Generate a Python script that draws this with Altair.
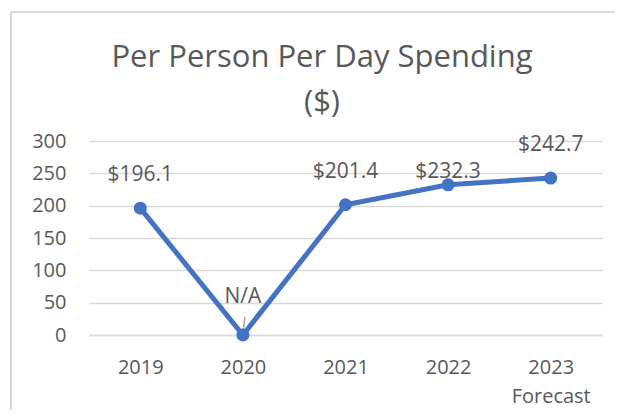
import altair as alt
import pandas as pd

years = ["2019", "2020", "2021", "2022", "2023 Forecast"]
spending = [196.1, 0, 201.4, 232.3, 242.7]
labels = ["$196.1", "N/A", "$201.4", "$232.3", "$242.7"]
title_lines = ["Per Person Per Day Spending", "($)"]

df = pd.DataFrame({"year": years, "value": spending, "label": labels})

FONT = "Open Sans"
GREY = "#595959"
BLUE = "#4472C4"
BORDER = "#D9D9D9"

x_enc = alt.X(
    "year:O",
    sort=years,
    scale=alt.Scale(type="point", padding=0.5),
    axis=alt.Axis(
        title=None,
        labelAngle=0,
        labelExpr="split(datum.label, ' ')",
        labelLineHeight=29,
        labelPadding=22,
        ticks=False,
        domain=True,
        domainColor=BORDER,
        domainWidth=1.5,
        grid=False,
        labelFontSize=20,
        labelColor=GREY,
        labelFont=FONT,
    ),
)
y_enc = alt.Y(
    "value:Q",
    scale=alt.Scale(domain=[0, 300], nice=False),
    axis=alt.Axis(
        title=None,
        values=[0, 50, 100, 150, 200, 250, 300],
        ticks=False,
        domain=False,
        grid=True,
        gridColor=BORDER,
        gridWidth=1.5,
        labelPadding=23,
        labelFontSize=20,
        labelColor=GREY,
        labelFont=FONT,
    ),
)

base = alt.Chart(df)
one = base.transform_filter("datum.year == '2019'")

frame_top = one.mark_rule(color=BORDER, strokeWidth=2).encode(
    x=alt.value(-78), x2=alt.value(800), y=alt.value(-129)
)
frame_left = one.mark_rule(color=BORDER, strokeWidth=2).encode(
    x=alt.value(-78), y=alt.value(-129), y2=alt.value(600)
)

title_props = dict(font=FONT, fontSize=31, color=GREY, align="center", baseline="alphabetic")
title1 = one.mark_text(**title_props).encode(
    x=alt.value(233), y=alt.value(-74), text=alt.value(title_lines[0])
)
title2 = one.mark_text(**title_props).encode(
    x=alt.value(233), y=alt.value(-29), text=alt.value(title_lines[1])
)

line = base.mark_line(color=BLUE, strokeWidth=5).encode(x=x_enc, y=y_enc)
pts = base.mark_circle(color=BLUE, size=170, opacity=1).encode(x=x_enc, y=y_enc)

txt_props = dict(font=FONT, fontSize=21, color=GREY, baseline="middle", align="center")
lab_main = base.mark_text(dy=-33, **txt_props).encode(
    x=x_enc, y=y_enc, text="label:N"
).transform_filter("datum.year != '2020' && datum.year != '2022'")
lab_2022 = base.mark_text(dy=-13, **txt_props).encode(
    x=x_enc, y=y_enc, text="label:N"
).transform_filter("datum.year == '2022'")
lab_na = base.mark_text(dy=-38, **txt_props).encode(
    x=x_enc, y=y_enc, text="label:N"
).transform_filter("datum.year == '2020'")
leader = base.mark_rule(
    color="#A6A6A6", strokeWidth=1.5, yOffset=-2, y2Offset=-18, x2Offset=2
).encode(
    x=x_enc, y=y_enc, x2=alt.X2("year:O"), y2=alt.Y2("value:Q")
).transform_filter("datum.year == '2020'")

chart = alt.layer(
    frame_top, frame_left, title1, title2, line, leader, pts, lab_main, lab_2022, lab_na
).properties(
    width=513,
    height=194,
    autosize=alt.AutoSizeParams(type="none"),
    padding={"left": 81, "top": 133, "right": 13, "bottom": 75},
).configure_view(stroke=None)

chart.save("out.html", embed_options={"renderer": "svg", "actions": False})
